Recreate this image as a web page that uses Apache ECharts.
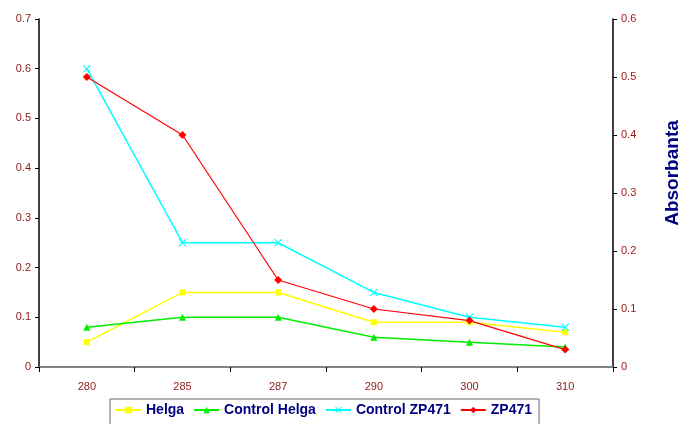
<!DOCTYPE html>
<html><head><meta charset="utf-8">
<script src="https://cdn.jsdelivr.net/npm/echarts@6/dist/echarts.min.js"></script>
<style>html,body{margin:0;padding:0;background:#fff}#c{width:681px;height:424px}</style>
</head><body><div id="c"></div>
<script>
const categories = ['280', '285', '287', '290', '300', '310'];
const helga = [0.05, 0.15, 0.15, 0.09, 0.09, 0.07];
const controlHelga = [0.08, 0.10, 0.10, 0.06, 0.05, 0.04];
const controlZP471 = [0.60, 0.25, 0.25, 0.15, 0.10, 0.08];
const zp471 = [0.50, 0.40, 0.15, 0.10, 0.08, 0.03];

const labelColor = '#8B1A1A';
const xShape = 'path://M0,1L1,0L5,4L9,0L10,1L6,5L10,9L9,10L5,6L1,10L0,9L4,5Z';

const chart = echarts.init(document.getElementById('c'), null, {renderer: 'canvas'});
chart.setOption({
  animation: false,
  backgroundColor: '#ffffff',
  grid: {left: 39, right: 68, top: 19, bottom: 57, containLabel: false, outerBoundsMode: 'none'},
  legend: {
    left: 110, top: 399,
    padding: [4, 7, 8, 5],
    borderColor: '#666', borderWidth: 1,
    itemWidth: 25, itemHeight: 8, itemGap: 9,
    textStyle: {fontFamily: 'Liberation Sans, Arial', fontWeight: 'bold', fontSize: 14, color: '#000080'},
    data: ['Helga', 'Control Helga', 'Control ZP471', 'ZP471']
  },
  xAxis: [{
    type: 'category', data: categories, boundaryGap: true, position: 'bottom',
    axisLine: {lineStyle: {color: '#000', width: 1.5}},
    axisTick: {show: true, length: 5, lineStyle: {color: '#000'}},
    axisLabel: {color: labelColor, fontFamily: 'Liberation Sans, Arial', fontSize: 11, margin: 14}
  }, {
    type: 'category', data: categories, position: 'top',
    axisLine: {lineStyle: {color: '#999', width: 1.5}},
    axisTick: {show: false}, axisLabel: {show: false}
  }],
  yAxis: [{
    type: 'value', min: 0, max: 0.7, interval: 0.1, position: 'left',
    axisLine: {show: true, lineStyle: {color: '#000', width: 1.5}},
    axisTick: {show: true, length: 4, lineStyle: {color: '#000'}},
    splitLine: {show: false},
    axisLabel: {color: labelColor, fontFamily: 'Liberation Sans, Arial', fontSize: 11, margin: 8}
  }, {
    type: 'value', min: 0, max: 0.6, interval: 0.1, position: 'right',
    name: 'Absorbanta', nameLocation: 'middle', nameRotate: 90, nameGap: 50,
    nameTextStyle: {fontFamily: 'Liberation Sans, Arial', fontWeight: 'bold', fontSize: 19, color: '#000080', padding: [0, 0, 0, 40]},
    axisLine: {show: true, lineStyle: {color: '#000', width: 1.5}},
    axisTick: {show: true, length: 4, lineStyle: {color: '#000'}},
    splitLine: {show: false},
    axisLabel: {color: '#A01818', fontFamily: 'Liberation Sans, Arial', fontSize: 11, margin: 8}
  }],
  series: [{
    name: 'Helga', type: 'line', yAxisIndex: 0, data: helga,
    symbol: 'rect', symbolSize: 6,
    itemStyle: {color: '#FFFF00'}, lineStyle: {color: '#FFFF00', width: 1.5}
  }, {
    name: 'Control Helga', type: 'line', yAxisIndex: 0, data: controlHelga,
    symbol: 'triangle', symbolSize: 7,
    itemStyle: {color: '#00EE00'}, lineStyle: {color: '#00EE00', width: 1.5}
  }, {
    name: 'Control ZP471', type: 'line', yAxisIndex: 0, data: controlZP471,
    symbol: xShape, symbolSize: 8,
    itemStyle: {color: '#00FFFF'}, lineStyle: {color: '#00FFFF', width: 1.5}
  }, {
    name: 'ZP471', type: 'line', yAxisIndex: 1, data: zp471,
    symbol: 'diamond', symbolSize: 8,
    itemStyle: {color: '#FF0000'}, lineStyle: {color: '#FF0000', width: 1.2}
  }]
});
</script></body></html>
